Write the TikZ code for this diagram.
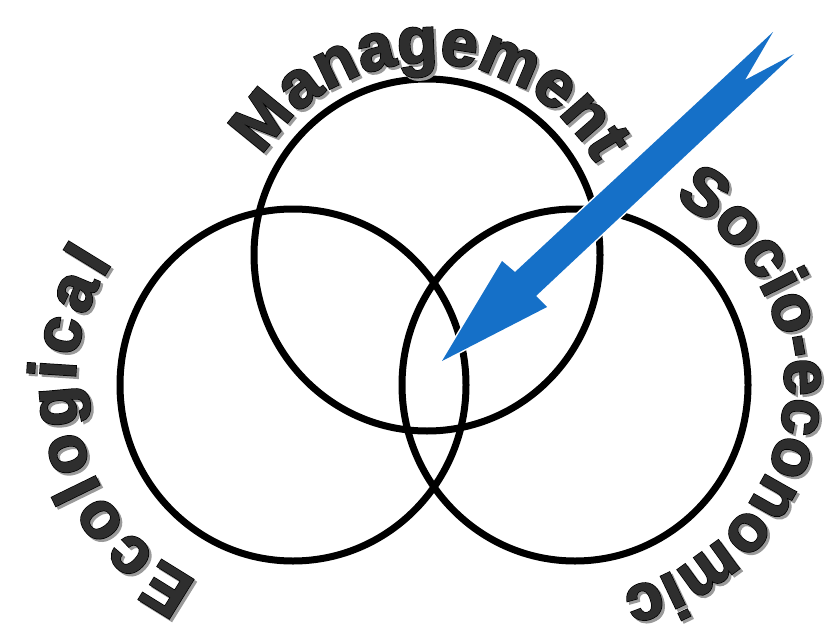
\documentclass[tikz,border=0pt]{standalone}
\usepackage{fontspec}
\setmainfont{Liberation Sans}
\newfontfamily\waouter[FakeBold=3.5]{Liberation Sans Bold}
\newfontfamily\wainner[FakeBold=1.2]{Liberation Sans Bold}
\usetikzlibrary{decorations.text}
\definecolor{arrowblue}{HTML}{1570C8}
\definecolor{wordfill}{HTML}{2E2E2E}
\definecolor{wordline}{HTML}{000000}
\definecolor{wordshadow}{HTML}{9A9A9A}
\newcommand\wasize{\fontsize{66}{66}\selectfont}
\newcommand\arcword[5]{%
  \path[decorate, decoration={text along path, text={|\waouter\wasize|#5},
        text align={fit to path}, text color=wordshadow}]
        ([shift={(2.5,-2.5)}]#1) ++(#3:#2) arc[start angle=#3, end angle=#4, radius=#2];
  \path[decorate, decoration={text along path, text={|\waouter\wasize|#5},
        text align={fit to path}, text color=wordline}]
        (#1) ++(#3:#2) arc[start angle=#3, end angle=#4, radius=#2];
  \path[decorate, decoration={text along path, text={|\wainner\wasize|#5},
        text align={fit to path}, text color=wordfill}]
        (#1) ++(#3:#2) arc[start angle=#3, end angle=#4, radius=#2];
}
\begin{document}
\begin{tikzpicture}[x=1pt,y=1pt,
  ring/.style={draw=black, line width=7pt},
  arrowhalo/.style={draw=white, line width=3pt, line join=round},
  arrowbody/.style={fill=arrowblue}]
\useasboundingbox (0,0) rectangle (834,625);
\fill[white] (0,0) rectangle (834,625);
\coordinate (Ctop) at (427,370);
\coordinate (Cleft) at (293,240);
\coordinate (Cright) at (575,240);
\draw[ring] (Ctop) circle[x radius=173, y radius=176];
\draw[ring] (Cleft) circle[x radius=173, y radius=176];
\draw[ring] (Cright) circle[x radius=173, y radius=176];
\arcword{Ctop}{192}{149}{30}{Management}
\arcword{Cleft}{218}{244}{146}{Ecological}
\arcword{Cright}{210}{62}{-74}{Socio-economic}
\coordinate (tailA) at (773,593);
\coordinate (notch) at (745,545);
\coordinate (tailB) at (794,571);
\coordinate (shaftB) at (536,329);
\coordinate (barbB) at (547,318);
\coordinate (tip) at (442,264);
\coordinate (barbA) at (502,364);
\coordinate (shaftA) at (515,353);
\draw[arrowhalo] (tailA) -- (notch) -- (tailB) -- (shaftB) -- (barbB) -- (tip) -- (barbA) -- (shaftA) -- cycle;
\fill[arrowbody] (tailA) -- (notch) -- (tailB) -- (shaftB) -- (barbB) -- (tip) -- (barbA) -- (shaftA) -- cycle;
\end{tikzpicture}
\end{document}
